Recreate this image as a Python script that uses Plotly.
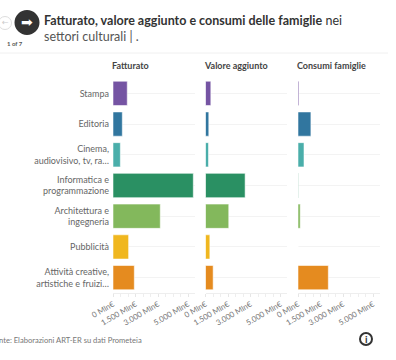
import plotly.graph_objects as go

categories = ["Stampa", "Editoria", "Cinema,<br>audiovisivo, tv, ra…", "Informatica e<br>programmazione",
              "Architettura e<br>ingegneria", "Pubblicità", "Attività creative,<br>artistiche e fruizi…"]
panel_titles = ["Fatturato", "Valore aggiunto", "Consumi famiglie"]
fatturato = [950, 620, 490, 5350, 3150, 1040, 1420]
valore_aggiunto = [355, 220, 200, 2640, 1550, 290, 510]
consumi_famiglie = [60, 860, 400, 20, 150, 0, 2020]
colors = ["#7554a3", "#31769f", "#4aaeaa", "#2a9063", "#83b85c", "#f0b71f", "#e58b1f"]
tick_vals = [0, 1500, 3000, 5000]
tick_text = ["0 Mln€", "1.500 Mln€", "3.000 Mln€", "5.000 Mln€"]
series = [fatturato, valore_aggiunto, consumi_famiglie]

W, H = 396, 360
FONT = "Lato"
px_x = lambda v: v / W
px_y = lambda v: 1 - v / H
lefts = [113, 205.5, 298]
pw = 81.5
top, bottom = 78, 293

fig = go.Figure()
for i, vals in enumerate(series):
    s = "" if i == 0 else str(i + 1)
    fig.add_trace(go.Bar(x=vals, y=categories, orientation="h", xaxis="x" + s, yaxis="y" + s,
                         marker=dict(color=colors, line=dict(color="rgba(255,255,255,0.55)", width=1)),
                         showlegend=False, hoverinfo="x+y"))
    fig.layout["xaxis" + s] = dict(
        domain=[px_x(lefts[i]), px_x(lefts[i] + pw)], range=[0, 5430], anchor="y" + s, automargin=False,
        tickmode="array", tickvals=tick_vals, ticktext=tick_text, tickangle=-30,
        tickfont=dict(size=7.8, color="#777777", family=FONT), ticks="outside", ticklen=3,
        tickcolor="#e6e6e6", showgrid=False, zeroline=False, showline=True, linecolor="#eeeeee",
        minor=dict(tickmode="linear", tick0=0, dtick=500, ticks="outside", ticklen=3, tickcolor="#eeeeee", showgrid=False),
    )
    fig.layout["yaxis" + s] = dict(
        domain=[px_y(bottom), px_y(top)], anchor="x" + s, autorange=False, range=[6.5, -0.5], type="category",
        categoryorder="array", categoryarray=categories, showticklabels=i == 0, ticks="", showgrid=True, automargin=False,
        gridcolor="#f3f3f3", gridwidth=1, zeroline=False, showline=False,
        tickfont=dict(size=9, color="#666666", family=FONT), ticklabelstandoff=3,
    )

def note(text, cx, cy, size, color, family=FONT, **kw):
    d = dict(text=text, x=px_x(cx), y=px_y(cy), xref="paper", yref="paper", xanchor="center", yanchor="middle",
             showarrow=False, borderpad=0, font=dict(size=size, color=color, family=family))
    d.update(kw)
    return d

ann = [note("<b>" + t + "</b>", lefts[i] - 2, 65.5, 9, "#444444", xanchor="left") for i, t in enumerate(panel_titles)]
ann += [
    note("<b>Fatturato, valore aggiunto e consumi delle famiglie</b> nei", 43, 20, 12.5, "#333333", xanchor="left"),
    note("settori culturali | .", 43, 37, 12.5, "#555555", xanchor="left"),
    note("<b>1 of 7</b>", 15, 43.5, 6, "#555555"),
    note("➡", 27, 22, 14, "#ffffff", family="DejaVu Sans"),
    note("←", 5, 22.5, 8, "#cccccc", family="DejaVu Sans"),
    note("nte: Elaborazioni ART-ER su dati Prometeia", -2, 340, 7.6, "#777777", xanchor="left"),
    note("<b>i</b>", 366, 339, 10, "#333333"),
]
def circ(cx, cy, r, **kw):
    return dict(type="circle", xref="paper", yref="paper", layer="below", x0=px_x(cx - r), x1=px_x(cx + r),
                y0=px_y(cy + r), y1=px_y(cy - r), **kw)
shapes = [
    circ(5, 23, 6.5, fillcolor="#ffffff", line=dict(color="#dddddd", width=1)),
    circ(27, 22.5, 12.5, fillcolor="#333333", line=dict(width=0)),
    circ(366, 339, 6, fillcolor="#ffffff", line=dict(color="#333333", width=2)),
    dict(type="line", xref="paper", yref="paper", x0=px_x(0), x1=px_x(388), y0=px_y(53), y1=px_y(53),
         line=dict(color="#f0f0f0", width=1)),
]
fig.update_layout(width=W, height=H, margin=dict(l=0, r=0, t=0, b=0), paper_bgcolor="#ffffff", plot_bgcolor="#ffffff",
                  bargap=0.21, annotations=ann, shapes=shapes, font=dict(family=FONT))
fig.write_html("out.html", config={"displayModeBar": False}, post_script="document.body.style.margin='0';")
